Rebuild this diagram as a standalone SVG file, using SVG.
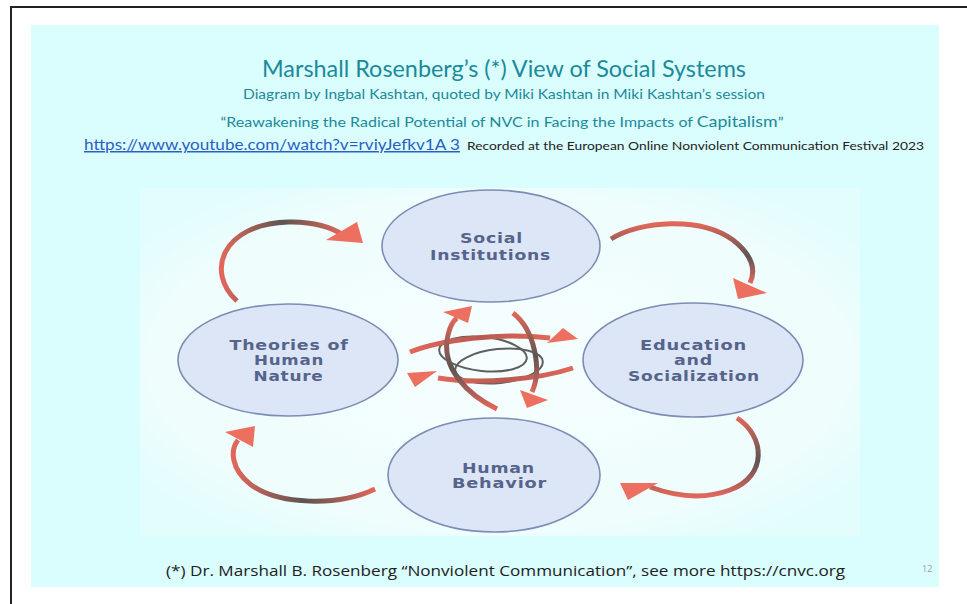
<svg xmlns="http://www.w3.org/2000/svg" width="967" height="604" viewBox="0 0 967 604">
  <style>
    .title { font-family: Lato, "Open Sans", sans-serif; fill: #1b8a9b; text-anchor: middle; }
    .node ellipse { fill: #dce6f7; stroke: #7c8cb4; stroke-width: 1.6; }
    .node text { font-family: "DejaVu Sans", Verdana, sans-serif; font-weight: bold; font-size: 13.5px; fill: #56648c; text-anchor: middle; letter-spacing: 0.6px; }
    .arc { fill: none; stroke-width: 5; stroke-linecap: butt; }
    .head { fill: #ec6f5f; }
    .ring { fill: none; stroke: #5f5f5f; stroke-width: 2; }
  </style>
  <defs>
    <linearGradient id="gh" x1="0" y1="0" x2="1" y2="0">
      <stop offset="0" stop-color="#e2675a"/>
      <stop offset="0.5" stop-color="#5c5552"/>
      <stop offset="1" stop-color="#e2675a"/>
    </linearGradient>
    <linearGradient id="gv" x1="0" y1="0" x2="0" y2="1">
      <stop offset="0" stop-color="#e2675a"/>
      <stop offset="0.55" stop-color="#5c5552"/>
      <stop offset="1" stop-color="#e2675a"/>
    </linearGradient>
    <linearGradient id="gr" x1="0" y1="0" x2="1" y2="0">
      <stop offset="0" stop-color="#e2675a"/>
      <stop offset="0.5" stop-color="#b85a52"/>
      <stop offset="1" stop-color="#e2675a"/>
    </linearGradient>
    <radialGradient id="panel" cx="0.5" cy="0.5" r="0.6">
      <stop offset="0" stop-color="#f6fefe"/>
      <stop offset="0.8" stop-color="#effdfd"/>
      <stop offset="1" stop-color="#e3fdfd"/>
    </radialGradient>
  </defs>

  <!-- page frame and slide -->
  <rect x="0" y="0" width="967" height="604" fill="#ffffff"/>
  <rect x="11" y="7" width="970" height="610" fill="#ffffff" stroke="#222" stroke-width="2"/>
  <rect x="31" y="25" width="908" height="562" fill="#dafdfd"/>
  <rect x="140" y="188" width="720" height="348" fill="url(#panel)"/>

  <!-- heading -->
  <text class="title" x="504" y="77" font-size="23" textLength="484" lengthAdjust="spacingAndGlyphs">Marshall Rosenberg’s (*) View of Social Systems</text>
  <text class="title" x="504" y="99" font-size="13.5" textLength="522" lengthAdjust="spacingAndGlyphs">Diagram by Ingbal Kashtan, quoted by Miki Kashtan in Miki Kashtan’s session</text>
  <text class="title" x="502" y="127" font-size="13.5" textLength="563" lengthAdjust="spacingAndGlyphs">“Reawakening the Radical Potential of NVC in Facing the Impacts of <tspan font-size="15">Capitalism</tspan>”</text>
  <text x="84" y="150" font-family="Lato, 'Open Sans', sans-serif" font-size="15" fill="#2b5fc2" text-decoration="underline" textLength="376" lengthAdjust="spacingAndGlyphs">https://www.youtube.com/watch?v=rviyJefkv1A 3</text>
  <text x="467" y="150" font-family="Lato, 'Open Sans', sans-serif" font-size="11.5" fill="#222" textLength="457" lengthAdjust="spacingAndGlyphs">Recorded at the European Online Nonviolent Communication Festival 2023</text>

  <!-- nodes -->
  <g id="social-institutions" class="node">
    <ellipse cx="491" cy="246" rx="109" ry="56"/>
    <text x="491.5" y="243" textLength="63" lengthAdjust="spacingAndGlyphs">Social</text>
    <text x="490.5" y="260" textLength="121" lengthAdjust="spacingAndGlyphs">Institutions</text>
  </g>
  <g id="theories-of-human-nature" class="node">
    <ellipse cx="288" cy="360" rx="110" ry="56"/>
    <text x="289" y="350" textLength="119" lengthAdjust="spacingAndGlyphs">Theories of</text>
    <text x="289" y="365" textLength="70" lengthAdjust="spacingAndGlyphs">Human</text>
    <text x="288.5" y="381" textLength="70" lengthAdjust="spacingAndGlyphs">Nature</text>
  </g>
  <g id="education-and-socialization" class="node">
    <ellipse cx="693" cy="360" rx="110" ry="57"/>
    <text x="693.5" y="350" textLength="107" lengthAdjust="spacingAndGlyphs">Education</text>
    <text x="693.5" y="365" textLength="39" lengthAdjust="spacingAndGlyphs">and</text>
    <text x="694" y="381" textLength="132" lengthAdjust="spacingAndGlyphs">Socialization</text>
  </g>
  <g id="human-behavior" class="node">
    <ellipse cx="494" cy="475" rx="106" ry="57"/>
    <text x="498.5" y="473" textLength="73" lengthAdjust="spacingAndGlyphs">Human</text>
    <text x="499.5" y="488" textLength="95" lengthAdjust="spacingAndGlyphs">Behavior</text>
  </g>

  <!-- connectors -->
  <g id="connectors">
    <path class="arc" stroke="url(#gh)" d="M237 301 C205 272 222 224 288 222 C313 221 333 228 343 235"/>
    <polygon class="head" points="326,240 357,222 363,243"/>

    <path class="arc" stroke="url(#gv)" d="M611 239 C640 221 700 216 733 240 C752 255 756 270 750 283"/>
    <polygon class="head" points="733,278 767,293 738,299"/>

    <path class="arc" stroke="url(#gv)" d="M737 418 C765 436 768 476 730 490 C706 499 680 498 650 487"/>
    <polygon class="head" points="620,483 658,483 628,500"/>

    <path class="arc" stroke="url(#gh)" d="M375 489 C340 506 278 506 250 484 C231 469 230 450 238 440"/>
    <polygon class="head" points="225,432 255,426 253,447"/>

    <!-- central cycle emblem -->
    <ellipse class="ring" cx="483" cy="354" rx="44" ry="17" transform="rotate(6 483 354)"/>
    <ellipse class="ring" cx="499" cy="366" rx="44" ry="17" transform="rotate(-6 499 366)"/>

    <path class="arc" stroke="url(#gr)" d="M410 352 C440 340 500 332 550 338"/>
    <polygon class="head" points="547,343 563,328 578,339"/>

    <path class="arc" stroke="url(#gr)" d="M573 368 C540 379 480 385 438 378"/>
    <polygon class="head" points="407,373 437,371 415,387"/>

    <path class="arc" stroke="url(#gv)" d="M513 313 C535 330 542 370 532 392"/>
    <polygon class="head" points="520,390 548,400 527,408"/>

    <path class="arc" stroke="url(#gv)" d="M497 409 C468 395 440 368 448 335 C450 326 453 321 457 318"/>
    <polygon class="head" points="443,312 472,306 468,323"/>
  </g>

  <!-- footnote and page number -->
  <text x="166" y="576" font-family="'Open Sans', 'Noto Sans', sans-serif" font-size="15" fill="#222" textLength="679" lengthAdjust="spacingAndGlyphs">(*) Dr. Marshall B. Rosenberg “Nonviolent Communication”, see more https://cnvc.org</text>
  <text x="922" y="572" font-family="'Open Sans', sans-serif" font-size="9" fill="#999">12</text>
</svg>
